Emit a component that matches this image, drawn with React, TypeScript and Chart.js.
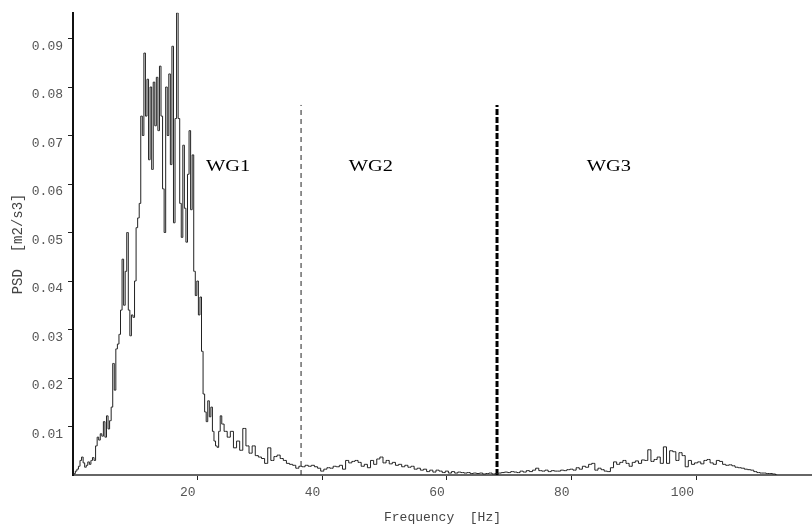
import React, { useEffect, useRef } from 'react';
import { Chart, registerables } from 'chart.js';

Chart.register(...registerables);

// Frequency grid (Hz): fine resolution through the main peak, coarser in the tail
const freqHz: number[] = [
  0, 0.25, 0.5, 0.75,
  1, 1.25, 1.5, 1.75,
  2, 2.25, 2.5, 2.75,
  3, 3.25, 3.5, 3.75,
  4, 4.25, 4.5, 4.75,
  5, 5.25, 5.5, 5.75,
  6, 6.25, 6.5, 6.75,
  7, 7.25, 7.5, 7.75,
  8, 8.25, 8.5, 8.75,
  9, 9.25, 9.5, 9.75,
  10, 10.25, 10.5, 10.75,
  11, 11.25, 11.5, 11.75,
  12, 12.25, 12.5, 12.75,
  13, 13.25, 13.5, 13.75,
  14, 14.25, 14.5, 14.75,
  15, 15.25, 15.5, 15.75,
  16, 16.25, 16.5, 16.75,
  17, 17.25, 17.5, 17.75,
  18, 18.25, 18.5, 18.75,
  19, 19.25, 19.5, 19.75,
  20, 20.25, 20.5, 20.75,
  21, 21.25, 21.5, 21.75,
  22, 22.25, 22.5, 22.75,
  23, 23.25, 23.5, 23.75,
  24, 24.5,
  25, 25.5, 26, 26.5, 27, 27.5, 28, 28.5, 29, 29.5,
  30, 30.5, 31, 31.5, 32, 32.5, 33, 33.5, 34, 34.5,
  35, 35.5, 36, 36.5, 37, 37.5, 38, 38.5, 39, 39.5,
  40, 40.5, 41, 41.5, 42, 42.5, 43, 43.5, 44, 44.5,
  45, 45.5, 46, 46.5, 47, 47.5, 48, 48.5, 49, 49.5,
  50, 50.5, 51, 51.5, 52, 52.5, 53, 53.5, 54, 54.5,
  55, 55.5, 56, 56.5, 57, 57.5, 58, 58.5, 59, 59.5,
  60, 60.5, 61, 61.5, 62, 62.5, 63, 63.5, 64, 64.5,
  65, 65.5, 66, 66.5, 67, 67.5, 68, 68.5, 69, 69.5,
  70, 70.5, 71, 71.5, 72, 72.5, 73, 73.5, 74, 74.5,
  75, 75.5, 76, 76.5, 77, 77.5, 78, 78.5, 79, 79.5,
  80, 80.5, 81, 81.5, 82, 82.5, 83, 83.5, 84, 84.5,
  85, 85.5, 86, 86.5, 87, 87.5, 88, 88.5, 89, 89.5,
  90, 90.5, 91, 91.5, 92, 92.5, 93, 93.5, 94, 94.5,
  95, 95.5, 96, 96.5, 97, 97.5, 98, 98.5, 99, 99.5,
  100, 100.5, 101, 101.5, 102, 102.5, 103, 103.5, 104, 104.5,
  105, 105.5, 106, 106.5, 107, 107.5, 108, 108.5, 109, 109.5,
  110, 110.5, 111, 111.5, 112, 112.5, 113,
];

// PSD values [m2/s3]
const psd: number[] = [
  0.0000, 0.0003, 0.0008, 0.0012,
  0.0018, 0.0030, 0.0037, 0.0025,
  0.0016, 0.0020, 0.0027, 0.0022,
  0.0030, 0.0036, 0.0030, 0.0060,
  0.0078, 0.0072, 0.0085, 0.0080,
  0.0110, 0.0078, 0.0122, 0.0095,
  0.0112, 0.0140, 0.0230, 0.0175,
  0.0260, 0.0270, 0.0290, 0.0340,
  0.0445, 0.0350, 0.0420, 0.0500,
  0.0340, 0.0287, 0.0330, 0.0325,
  0.0400, 0.0510, 0.0530, 0.0560,
  0.0740, 0.0700, 0.0870, 0.0740,
  0.0816, 0.0650, 0.0800, 0.0630,
  0.0810, 0.0720, 0.0820, 0.0710,
  0.0843, 0.0740, 0.0590, 0.0500,
  0.0800, 0.0700, 0.0827, 0.0640,
  0.0884, 0.0520, 0.0735, 0.0953,
  0.0735, 0.0560, 0.0490, 0.0680,
  0.0550, 0.0480, 0.0620, 0.0710,
  0.0547, 0.0660, 0.0420, 0.0370,
  0.0400, 0.0330, 0.0367, 0.0255,
  0.0167, 0.0130, 0.0110, 0.0153,
  0.0120, 0.0140, 0.0090, 0.0070,
  0.0060, 0.0057, 0.0090, 0.0122,
  0.0105, 0.0090,
  0.0078, 0.0090, 0.0056, 0.0070, 0.0051, 0.0096, 0.0060, 0.0045, 0.0060, 0.0040,
  0.0037, 0.0034, 0.0024, 0.0056, 0.0030, 0.0038, 0.0041, 0.0034, 0.0030, 0.0024,
  0.0022, 0.0020, 0.0014, 0.0018, 0.0017, 0.0020, 0.0018, 0.0020, 0.0017, 0.0014,
  0.0008, 0.0012, 0.0015, 0.0014, 0.0018, 0.0017, 0.0020, 0.0012, 0.0030, 0.0025,
  0.0028, 0.0030, 0.0026, 0.0018, 0.0022, 0.0015, 0.0030, 0.0022, 0.0033, 0.0037,
  0.0025, 0.0030, 0.0023, 0.0026, 0.0020, 0.0022, 0.0017, 0.0020, 0.0016, 0.0018,
  0.0012, 0.0014, 0.0010, 0.0012, 0.0007, 0.0010, 0.0006, 0.0010, 0.0008, 0.0005,
  0.0008, 0.0004, 0.0007, 0.0004, 0.0006, 0.0005, 0.0004, 0.0005, 0.0003, 0.0004,
  0.0003, 0.0004, 0.0002, 0.0003, 0.0004, 0.0002, 0.0003, 0.0004, 0.0005, 0.0006,
  0.0005, 0.0007, 0.0006, 0.0005, 0.0008, 0.0006, 0.0009, 0.0007, 0.0010, 0.0014,
  0.0009, 0.0008, 0.0010, 0.0007, 0.0009, 0.0008, 0.0008, 0.0010, 0.0009, 0.0011,
  0.0012, 0.0010, 0.0015, 0.0012, 0.0018, 0.0016, 0.0022, 0.0024, 0.0010, 0.0014,
  0.0011, 0.0008, 0.0007, 0.0015, 0.0027, 0.0022, 0.0026, 0.0030, 0.0024, 0.0018,
  0.0026, 0.0029, 0.0024, 0.0031, 0.0030, 0.0052, 0.0028, 0.0032, 0.0037, 0.0024,
  0.0058, 0.0024, 0.0050, 0.0048, 0.0030, 0.0046, 0.0040, 0.0017, 0.0030, 0.0022,
  0.0025, 0.0027, 0.0023, 0.0030, 0.0032, 0.0025, 0.0022, 0.0030, 0.0028, 0.0022,
  0.0020, 0.0021, 0.0019, 0.0016, 0.0015, 0.0014, 0.0012, 0.0011, 0.0010, 0.0007,
  0.0005, 0.0004, 0.0004, 0.0003, 0.0003, 0.0002, 0.0000,
];

const xTickValues: number[] = [20, 40, 60, 80, 100];
const yTickValues: number[] = [0.01, 0.02, 0.03, 0.04, 0.05, 0.06, 0.07, 0.08, 0.09];

const dividerHz: number[] = [36.6, 68.05];
const dividerTop = 0.0763;

const groupLabels: string[] = ['WG1', 'WG2', 'WG3'];
const groupLabelHz: number[] = [24.9, 47.8, 86.0];
const groupLabelPsd = 0.0637;

const X_MAX = 118.6;
const Y_MAX = 0.0953;

const labelPlugin = {
  id: 'wgLabels',
  afterDatasetsDraw(chart: any) {
    const { ctx, scales } = chart;
    const xs = scales.x;
    const ys = scales.y;
    ctx.save();
    ctx.font = '17px "Liberation Serif", "Times New Roman", serif';
    ctx.fillStyle = '#000';
    ctx.textAlign = 'center';
    ctx.textBaseline = 'middle';
    groupLabels.forEach((t, i) => {
      const px = xs.getPixelForValue(groupLabelHz[i]);
      const py = ys.getPixelForValue(groupLabelPsd);
      ctx.save();
      ctx.translate(px, py);
      ctx.scale(1.2, 1);
      ctx.fillText(t, 0, 0);
      ctx.restore();
    });
    ctx.restore();
  },
};

export default function App() {
  const ref = useRef<HTMLCanvasElement>(null);

  useEffect(() => {
    document.body.style.margin = '0';
    const canvas = ref.current;
    if (!canvas) return;
    const series = freqHz.map((f, i) => ({ x: f, y: psd[i] }));
    const chart = new Chart(canvas, {
      type: 'line',
      data: {
        datasets: [
          {
            data: series,
            borderColor: '#222',
            borderWidth: 1,
            pointRadius: 0,
            stepped: 'middle',
            fill: false,
          },
          {
            data: [
              { x: dividerHz[0], y: 0 },
              { x: dividerHz[0], y: dividerTop },
            ],
            borderColor: '#222',
            borderWidth: 1,
            borderDash: [5, 4],
            pointRadius: 0,
            fill: false,
          },
          {
            data: [
              { x: dividerHz[1], y: 0 },
              { x: dividerHz[1], y: dividerTop },
            ],
            borderColor: '#000',
            borderWidth: 3,
            borderDash: [6, 2],
            pointRadius: 0,
            fill: false,
          },
        ],
      } as any,
      options: {
        responsive: false,
        animation: false,
        layout: { padding: { top: 8, left: 0, right: 0, bottom: 0 } },
        plugins: { legend: { display: false }, tooltip: { enabled: false } },
        scales: {
          x: {
            type: 'linear',
            min: 0,
            max: X_MAX,
            afterBuildTicks: (s: any) => {
              s.ticks = xTickValues.map((v) => ({ value: v }));
            },
            afterFit: (s: any) => {
              s.height = 55;
            },
            grid: { drawOnChartArea: false, drawTicks: true, tickLength: 5, color: '#222', lineWidth: 1 },
            border: { color: '#666', width: 2 },
            ticks: {
              font: { family: 'Liberation Mono', size: 13 },
              color: '#555',
              padding: 5,
              maxRotation: 0,
              autoSkip: false,
              align: 'end',
              labelOffset: -2,
              callback: (v: any) => String(v),
            },
            title: {
              display: true,
              text: 'Frequency  [Hz]',
              font: { family: 'Liberation Mono', size: 13 },
              color: '#444',
              padding: { top: 0, bottom: 5 },
            },
          },
          y: {
            type: 'linear',
            min: 0,
            max: Y_MAX,
            afterBuildTicks: (s: any) => {
              s.ticks = yTickValues.map((v) => ({ value: v }));
            },
            afterFit: (s: any) => {
              s.width = 73;
            },
            grid: { drawOnChartArea: false, drawTicks: true, tickLength: 5, color: '#222', lineWidth: 1 },
            border: { color: '#111', width: 2 },
            ticks: {
              font: { family: 'Liberation Mono', size: 13 },
              color: '#555',
              padding: 5,
              autoSkip: false,
              labelOffset: 8,
              callback: (v: any) => Number(v).toFixed(2),
            },
            title: {
              display: true,
              text: 'PSD  [m2/s3]',
              font: { family: 'Liberation Mono', size: 14 },
              color: '#444',
              padding: { top: 10, bottom: 0 },
            },
          },
        },
      } as any,
      plugins: [labelPlugin],
    });
    return () => chart.destroy();
  }, []);

  return (
    <div style={{ width: 812, height: 530 }}>
      <canvas ref={ref} width={812} height={530} style={{ display: 'block' }} />
    </div>
  );
}
